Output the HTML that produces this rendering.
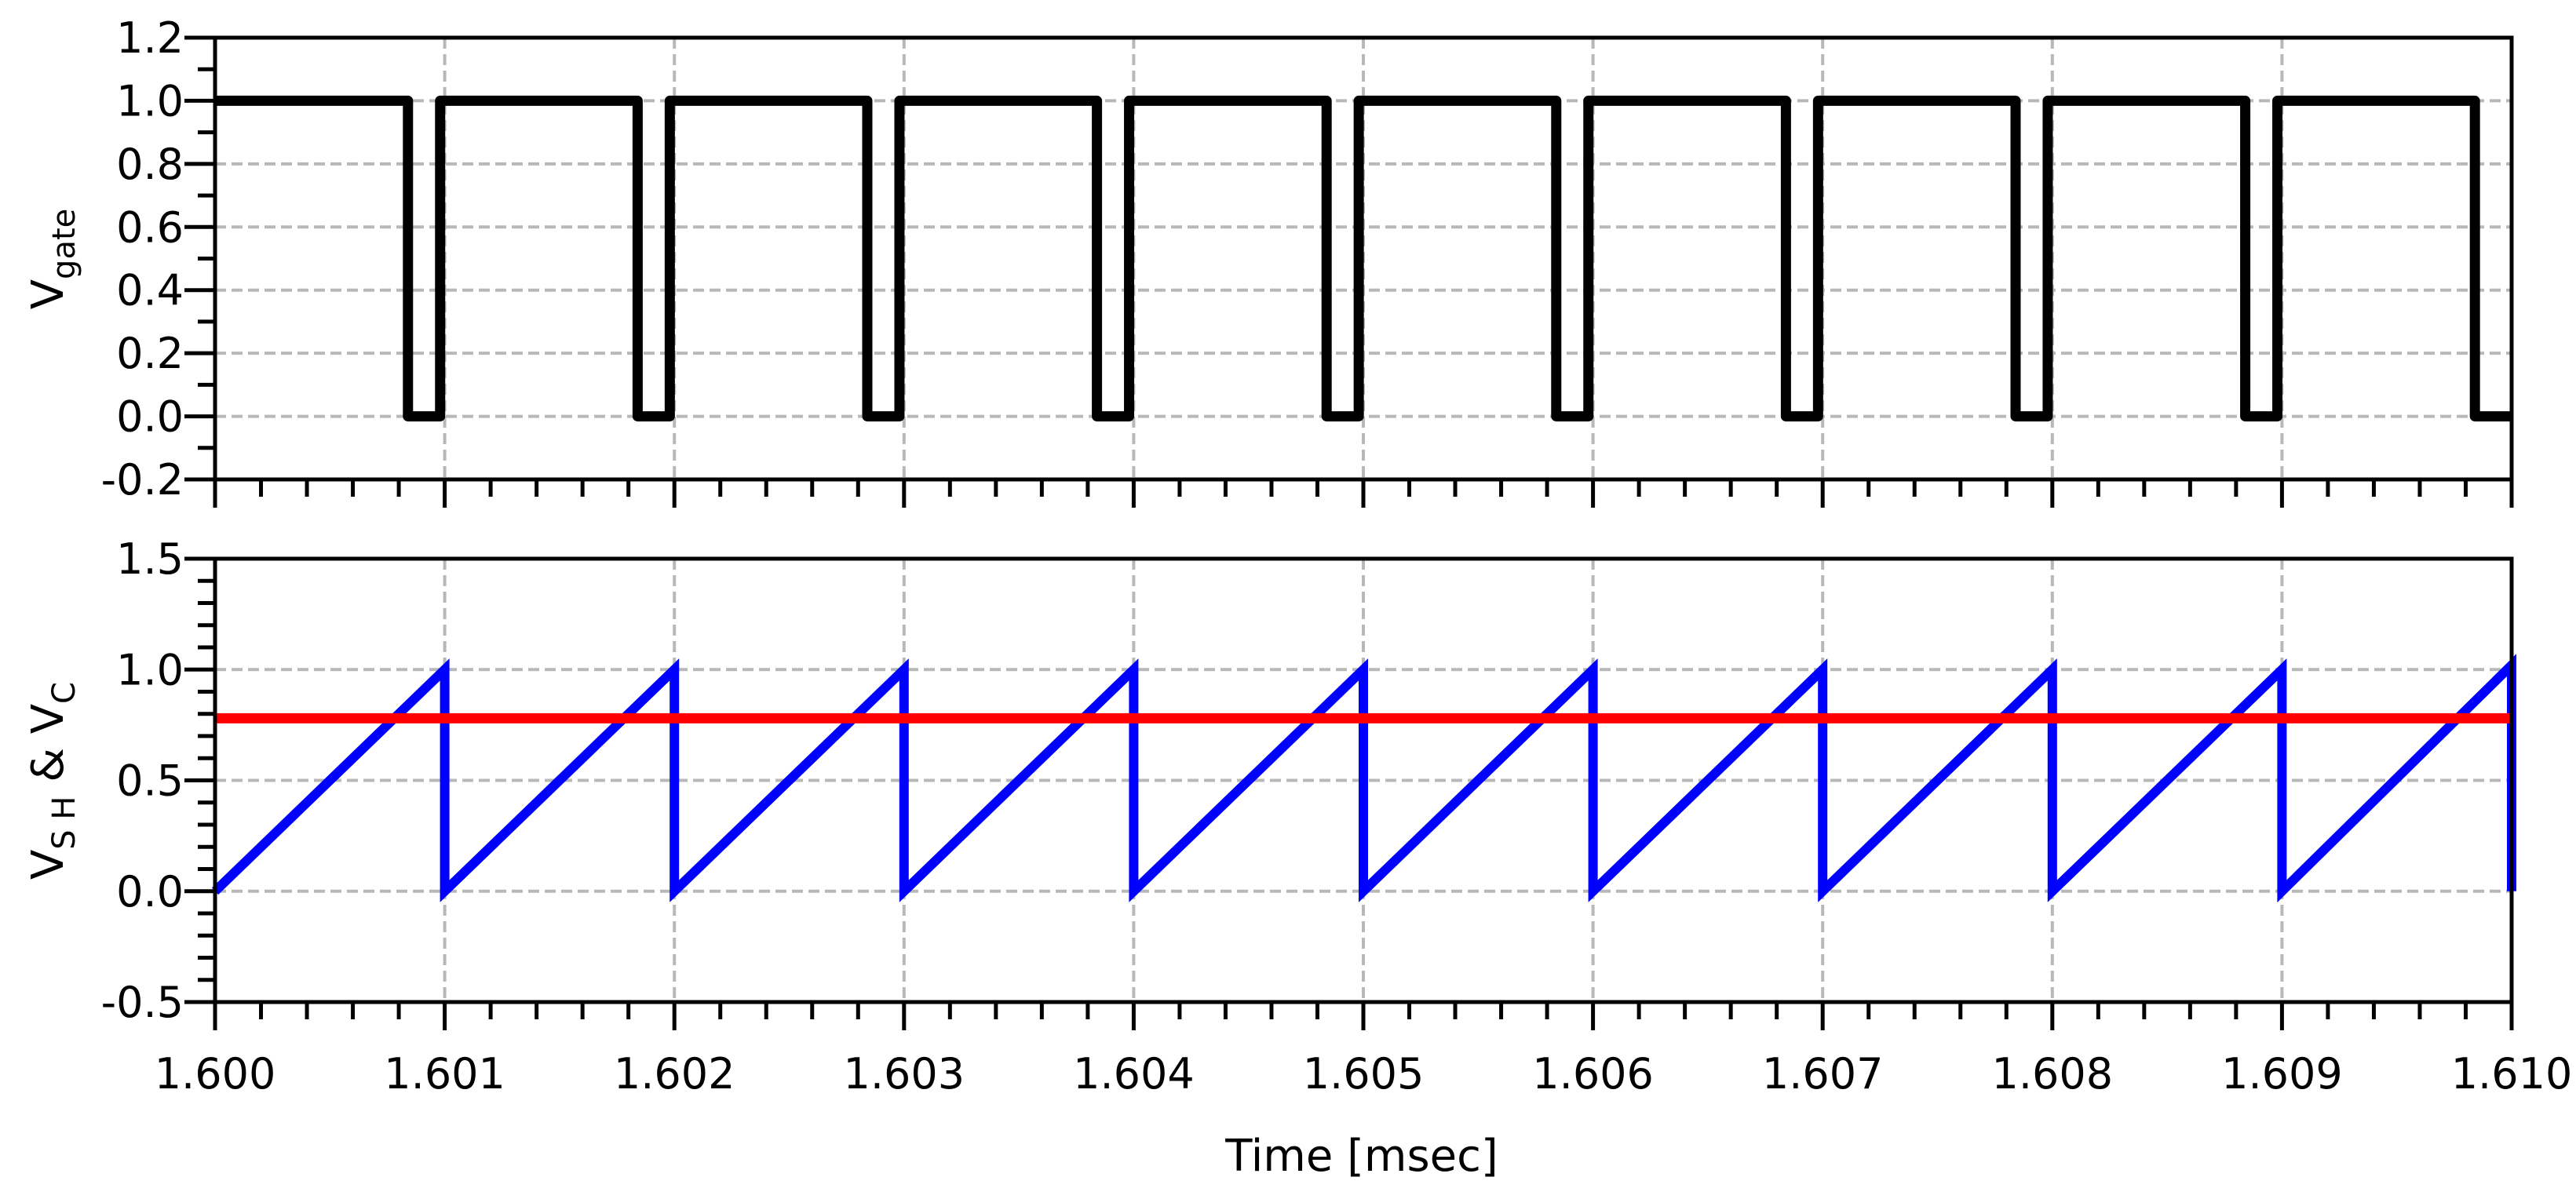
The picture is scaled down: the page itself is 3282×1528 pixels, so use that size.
<!DOCTYPE html>
<html><head><meta charset="utf-8"><style>
html,body{margin:0;padding:0;background:#fff;}
svg{display:block;font-family:"DejaVu Sans","Liberation Sans",sans-serif;}
</style></head><body>
<svg id="chart" width="3282" height="1528" viewBox="0 0 3282 1528" xmlns="http://www.w3.org/2000/svg">
<g id="gtop"></g>
<g id="gbot"></g>
<text transform="translate(80,330) rotate(-90)" text-anchor="middle" font-size="56">V<tspan font-size="40" dy="15">gate</tspan></text>
<text transform="translate(80,995) rotate(-90)" text-anchor="middle" font-size="56">V<tspan font-size="40" dy="15">S H</tspan><tspan dy="-15">  &amp; V</tspan><tspan font-size="40" dy="15">C</tspan></text>
<text x="1735" y="1492" text-anchor="middle" font-size="56">Time [msec]</text>
</svg>
<script>
const xTicks = ["1.600","1.601","1.602","1.603","1.604","1.605","1.606","1.607","1.608","1.609","1.610"];
const gateYTicks = [-0.2,0,0.2,0.4,0.6,0.8,1.0,1.2];
const shYTicks = [-0.5,0,0.5,1.0,1.5];
const gateFalls = [1.60084,1.60184,1.60284,1.60384,1.60484,1.60584,1.60684,1.60784,1.60884,1.60984];
const gateRises = [1.60098,1.60198,1.60298,1.60398,1.60498,1.60598,1.60698,1.60798,1.60898];
const sawStarts = [1.600,1.601,1.602,1.603,1.604,1.605,1.606,1.607,1.608,1.609];
const sawPeaks = [1.0,1.0,1.0,1.0,1.0,1.0,1.0,1.0,1.0,1.02];
const vcLevel = 0.78;

const NS="http://www.w3.org/2000/svg";
const X0=274,X1=3200;
const xs=t=>X0+(t-1.600)/0.010*(X1-X0);
const T0=48,T1=611,B0=712,B1=1277;
const y1=v=>T1-(v+0.2)/1.4*(T1-T0);
const y2=v=>B1-(v+0.5)/2.0*(B1-B0);
function mk(tag,attrs,parent){const e=document.createElementNS(NS,tag);for(const k in attrs)e.setAttribute(k,attrs[k]);parent.appendChild(e);return e;}
const gTop=document.getElementById('gtop'), gBot=document.getElementById('gbot');

function panel(g,ys,Y0,Y1,yTicks,minorStep,ymin,ymax,prefix){
  for(let i=1;i<xTicks.length-1;i++){
    const x=xs(parseFloat(xTicks[i]));
    const l=mk('line',{x1:x,x2:x,y1:Y0,y2:Y1,stroke:'#b8b8b8','stroke-width':4,'stroke-dasharray':'14 7'},g);
    
    
  }
  yTicks.forEach(v=>{
    if(v<=ymin||v>=ymax) return;
    const y=ys(v);
    const l=mk('line',{x1:X0,x2:X1,y1:y,y2:y,stroke:'#b8b8b8','stroke-width':4,'stroke-dasharray':'14 7'},g);
    
    
  });
  const n=Math.round((ymax-ymin)/minorStep);
  for(let i=0;i<=n;i++){
    const v=ymin+i*minorStep;
    const major=yTicks.some(t=>Math.abs(t-v)<1e-6);
    const y=ys(v);
    const l=mk('line',{x1:major?235:252,x2:X0,y1:y,y2:y,stroke:'#000','stroke-width':5},g);
    
    
  }
  yTicks.forEach(v=>{
    const t=mk('text',{x:234,y:ys(v)+19,'text-anchor':'end','font-size':54},g);
    t.textContent=v.toFixed(1);
    
    
  });
  for(let i=0;i<=50;i++){
    const x=xs(1.600+i*0.0002);
    const major=i%5===0;
    const l=mk('line',{x1:x,x2:x,y1:Y1,y2:Y1+(major?36:22),stroke:'#000','stroke-width':5},g);
    
    
  }
}
panel(gTop,y1,T0,T1,gateYTicks,0.1,-0.2,1.2,'gate');
panel(gBot,y2,B0,B1,shYTicks,0.1,-0.5,1.5,'sh');

xTicks.forEach(s=>{
  const t=mk('text',{x:xs(parseFloat(s)),y:1387,'text-anchor':'middle','font-size':54},gBot);
  t.textContent=s;
  
  
});

let pts=[[xs(1.600),y1(1.0)]];
gateFalls.forEach((f,i)=>{
  pts.push([xs(f),y1(1.0)],[xs(f),y1(0)]);
  if(i<gateRises.length){pts.push([xs(gateRises[i]),y1(0)],[xs(gateRises[i]),y1(1.0)]);}
  else pts.push([xs(1.610),y1(0)]);
});
const gl=mk('polyline',{points:pts.map(p=>p.join(',')).join(' '),fill:'none',stroke:'#000','stroke-width':13,'stroke-linejoin':'round'},gTop);



let sp=[];
sawStarts.forEach((s,i)=>{
  const e=i<sawStarts.length-1?sawStarts[i+1]:1.610;
  sp.push([xs(s),y2(0)],[xs(e),y2(sawPeaks[i])],[xs(e),y2(0)]);
});
const sl=mk('polyline',{points:sp.map(p=>p.join(',')).join(' '),fill:'none',stroke:'#0000ff','stroke-width':12,'stroke-linejoin':'miter'},gBot);



const rl=mk('line',{x1:X0,x2:X1,y1:y2(vcLevel),y2:y2(vcLevel),stroke:'#ff0000','stroke-width':13},gBot);



[[T0,T1,gTop,'gate-frame'],[B0,B1,gBot,'sh-frame']].forEach(([a,b,g,n])=>{
  const r=mk('rect',{x:X0,y:a,width:X1-X0,height:b-a,fill:'none',stroke:'#000','stroke-width':5},g);
  
  
});
</script>
</body></html>
